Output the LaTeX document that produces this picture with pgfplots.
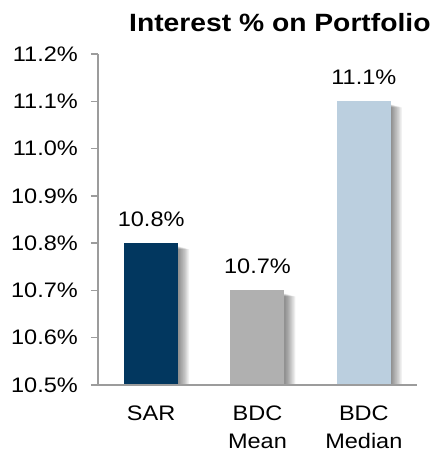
\documentclass[border=0pt]{standalone}
\usepackage{pgfplots}
\pgfplotsset{compat=1.18}
\usepackage{fontspec}
\setmainfont{Liberation Sans}
\definecolor{navy}{HTML}{02375F}
\definecolor{bargray}{HTML}{B0B0B0}
\definecolor{lblue}{HTML}{BBCFDF}
\definecolor{axgray}{HTML}{9C9C9C}
\newcommand\sx[1]{\scalebox{1.12}[1]{#1}}
\begin{document}
\begin{tikzpicture}
\begin{axis}[
  scale only axis,
  width=319pt, height=331pt,
  xmin=-0.5, xmax=2.5,
  ymin=10.5, ymax=11.2,
  /pgf/number format/assume math mode=true,
  axis x line*=bottom, axis y line*=left,
  axis line style={axgray, line width=1.4pt},
  every tick/.style={axgray, line width=1.4pt},
  tick align=outside,
  major tick length=7pt,
  ytick={10.5,10.6,10.7,10.8,10.9,11.0,11.1,11.2},
  yticklabels={\sx{10.5\%},\sx{10.6\%},\sx{10.7\%},\sx{10.8\%},\sx{10.9\%},\sx{11.0\%},\sx{11.1\%},\sx{11.2\%}},
  yticklabel style={font=\fontsize{21}{28}\selectfont, anchor=east, inner sep=0pt, xshift=-13pt},
  xtick={0,1,2},
  xticklabels={\sx{SAR},\sx{BDC}\\\sx{Mean},\sx{BDC}\\\sx{Median}},
  major x tick style={draw=none},
  xticklabel style={font=\fontsize{21}{28}\selectfont, align=center, anchor=north, inner sep=0pt, yshift=-14pt},
  extra x ticks={-0.5,0.5,1.5,2.5},
  extra x tick labels={},
  extra x tick style={major tick length=7pt, tick style={axgray, line width=1.4pt}},
  ybar,
  bar width=54pt,
  nodes near coords={\sx{\pgfmathprintnumber[fixed,fixed zerofill,precision=1]{\pgfplotspointmeta}\%}},
  nodes near coords style={font=\fontsize{21}{28}\selectfont, anchor=base, inner sep=0pt, yshift=17pt, black},
  axis on top,
]
\coordinate (o) at (rel axis cs:0,0);
\pgfplotsinvokeforeach{1,2,3,4,5,6,7,8,9,10}{
  \addplot[fill=black, draw=none, opacity=0.055, bar shift=0pt, xshift=#1*1.1pt, yshift=-#1*0.3pt-3pt, nodes near coords={}] coordinates {(0,10.8) (1,10.7) (2,11.1)};
}
\addplot[fill=navy, draw=none, bar shift=0pt] coordinates {(0,10.8)};
\addplot[fill=bargray, draw=none, bar shift=0pt] coordinates {(1,10.7)};
\addplot[fill=lblue, draw=none, bar shift=0pt] coordinates {(2,11.1)};
\end{axis}
\node[anchor=base west, inner sep=0pt, font=\fontsize{25}{30}\selectfont\bfseries] at ([shift={(31pt,353pt)}]o) {\scalebox{1.13}[1]{Interest \% on Portfolio}};
\pgfresetboundingbox
\path ([shift={(-98pt,-68pt)}]o) rectangle ([shift={(341pt,385pt)}]o);
\end{tikzpicture}
\end{document}
